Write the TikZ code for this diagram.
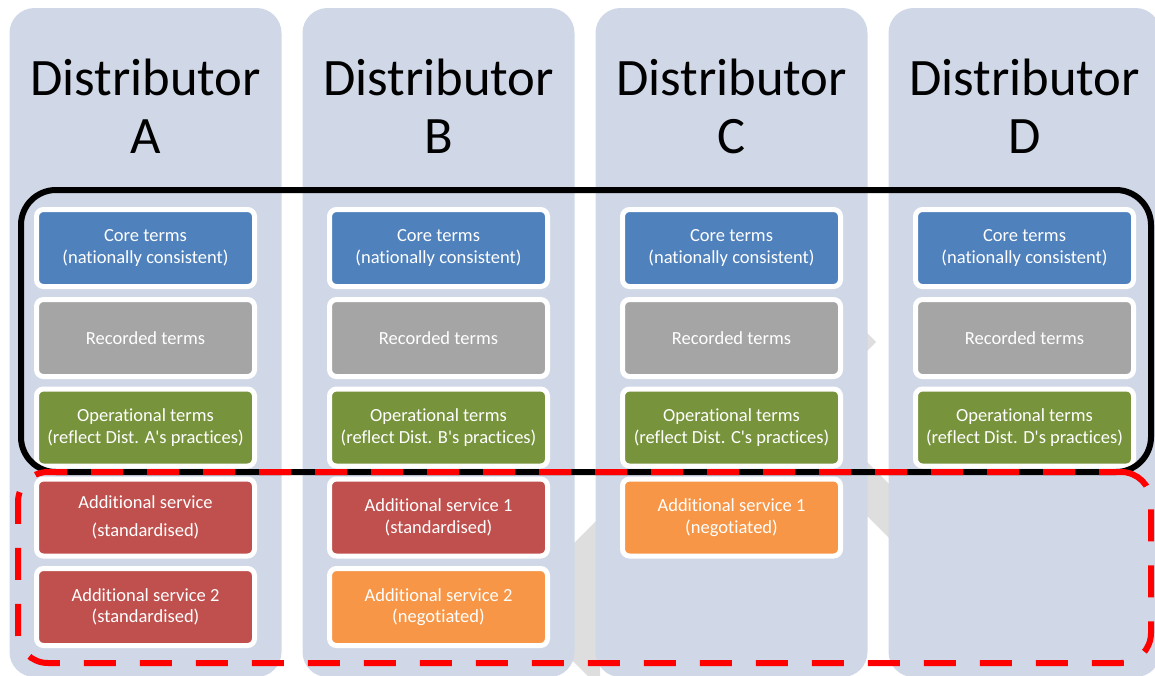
\documentclass[tikz,border=0pt]{standalone}
\usepackage{fontspec}
\newfontfamily\calfont{Carlito}[Ligatures={NoCommon}]
\definecolor{colbg}{HTML}{D0D8E8}
\definecolor{coreblue}{HTML}{4F81BD}
\definecolor{recgrey}{HTML}{A5A5A5}
\definecolor{opgreen}{HTML}{77933C}
\definecolor{stdred}{HTML}{C0504D}
\definecolor{negorange}{HTML}{F79646}
\definecolor{arrowgrey}{HTML}{DEDEDE}
\begin{document}
\begin{tikzpicture}[x=1pt,y=-1pt,
  column/.style={fill=colbg, rounded corners=25pt, minimum width=272pt, minimum height=669pt, inner sep=0pt},
  title/.style={font=\calfont\fontsize{52.6}{58}\selectfont, text=black, inner sep=0pt, anchor=base},
  termbox/.style={draw=white, line width=5pt, rounded corners=7pt, minimum width=218pt, minimum height=77pt,
    inner sep=0pt, text=white, align=center, font=\calfont\fontsize{18.5}{21.5}\selectfont},
  coreframe/.style={draw=black, line width=6pt, rounded corners=35pt, inner sep=0pt},
  extraframe/.style={draw=red, line width=6pt, rounded corners=30pt, inner sep=0pt, dash pattern=on 32pt off 24pt, dash phase=10pt},
]
\clip (0,0) rectangle (1155,675);

% pieces of the background arrow seen between the columns
\fill[arrowgrey] (860,326) -- (876,342) -- (860,358) -- cycle;
\fill[arrowgrey] (860,455) -- (895,490) -- (895,544) -- (860,509) -- cycle;
\fill[arrowgrey] (570,547) -- (600,517) -- (600,680) -- (592,680) -- (570,658) -- cycle;

% distributor columns with their headings and shared term boxes
\foreach \L [count=\i from 0] in {A,B,C,D} {
  \pgfmathsetmacro{\cx}{145.5+293*\i}
  \node[column] (col\L) at (\cx,342.5) {};
  \node[title] (head\L) at (\cx,95) {Distributor};
  \node[title] (letter\L) at (\cx,153) {\L};
  \node[termbox, fill=coreblue] (core\L) at (\cx,248) {Core terms\\(nationally consistent)};
  \node[termbox, fill=recgrey] (rec\L) at (\cx,338) {Recorded terms};
  \node[termbox, fill=opgreen] (op\L) at (\cx,427.5) {Operational terms\\(reflect Dist. \L's practices)};
}

% additional services
\node[termbox, fill=stdred] (addA1) at (145.5,517.5) {Additional service\\[7pt](standardised)};
\node[termbox, fill=stdred] (addA2) at (145.5,607) {Additional service 2\\(standardised)};
\node[termbox, fill=stdred] (addB1) at (438.5,517.5) {Additional service 1\\(standardised)};
\node[termbox, fill=negorange] (addB2) at (438.5,607) {Additional service 2\\(negotiated)};
\node[termbox, fill=negorange] (addC1) at (731.5,517.5) {Additional service 1\\(negotiated)};

% grouping frames
\node[coreframe, minimum width=1130pt, minimum height=282pt] (common) at (586,331) {};
\node[extraframe, minimum width=1133pt, minimum height=191pt] (extras) at (584.5,567.5) {};
\end{tikzpicture}
\end{document}
